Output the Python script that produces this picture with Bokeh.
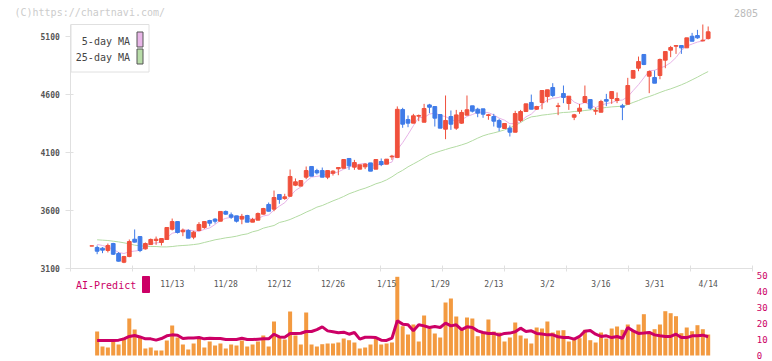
import numpy as np
from bokeh.plotting import figure
from bokeh.models import (ColumnDataSource, Range1d, LinearAxis, FixedTicker,
                          Label, BoxAnnotation)
from bokeh.embed import file_html
from bokeh.resources import INLINE

nan = np.nan

# ---------------- data ----------------
opens = [3293, 3281, 3275, 3255, 3315, 3229, 3154, 3203, 3352, 3375,
         3269, 3306, 3341, 3324, 3350, 3438, 3504, 3416, 3427, 3370,
         3427, 3453, 3513, 3525, 3507, 3591, 3562, 3553, 3525, 3556,
         3499, 3516, 3568, 3651, 3611, 3737, 3702, 3722, 3817, 3809,
         3886, 3978, 3943, 3943, 3886, 3920, 3958, 3963, 4047, 3972,
         3955, 3975, 4009, 3955, 4021, 3998, 4061, 4055, 4468, 4382,
         4351, 4411, 4359, 4508, 4494, 4425, 4299, 4408, 4308, 4351,
         4420, 4500, 4471, 4474, 4417, 4408, 4374, 4305, 4308, 4273,
         4374, 4451, 4529, 4471, 4529, 4580, 4658, 4494, 4606, 4520,
         4402, 4454, 4529, 4554, 4454, 4445, 4554, 4563, 4546, 4500,
         4514, 4738, 4824, 4942, 4755, 4744, 4761, 4893, 4979, 5013,
         5019, 4999, 5099, 5105, 5059, 5079]
highs = [3296, 3298, 3284, 3315, 3321, 3241, 3209, 3350, 3436, 3375,
         3324, 3358, 3375, 3358, 3453, 3530, 3504, 3444, 3438, 3424,
         3499, 3504, 3519, 3533, 3591, 3599, 3582, 3553, 3570, 3562,
         3536, 3582, 3622, 3668, 3771, 3737, 3743, 3952, 3875, 3857,
         3978, 3978, 3958, 3969, 3943, 3946, 3969, 4038, 4047, 4035,
         3992, 4006, 4009, 4038, 4047, 4041, 4078, 4495, 4483, 4417,
         4431, 4425, 4517, 4517, 4494, 4425, 4589, 4460, 4465, 4465,
         4589, 4500, 4483, 4474, 4431, 4431, 4388, 4348, 4331, 4457,
         4465, 4517, 4597, 4500, 4632, 4638, 4695, 4526, 4675, 4583,
         4431, 4517, 4675, 4554, 4486, 4552, 4603, 4623, 4615, 4517,
         4741, 4804, 4924, 4942, 4804, 4804, 4907, 4967, 5016, 5019,
         5019, 5085, 5128, 5154, 5200, 5183]
lows = [3292, 3223, 3232, 3238, 3217, 3160, 3146, 3197, 3324, 3241,
        3263, 3304, 3304, 3298, 3350, 3427, 3401, 3378, 3361, 3352,
        3421, 3441, 3464, 3487, 3507, 3562, 3527, 3496, 3481, 3499,
        3499, 3516, 3565, 3591, 3593, 3657, 3691, 3717, 3809, 3809,
        3869, 3895, 3909, 3886, 3869, 3900, 3903, 3963, 3949, 3949,
        3955, 3955, 3938, 3955, 3981, 3998, 4035, 4050, 4311, 4316,
        4351, 4368, 4359, 4437, 4322, 4308, 4213, 4293, 4293, 4345,
        4420, 4443, 4402, 4397, 4380, 4322, 4282, 4305, 4236, 4273,
        4359, 4451, 4471, 4465, 4471, 4529, 4574, 4420, 4523, 4465,
        4377, 4431, 4529, 4465, 4423, 4445, 4497, 4517, 4523, 4377,
        4514, 4738, 4798, 4850, 4609, 4695, 4729, 4824, 4919, 4947,
        4947, 4999, 5056, 5077, 5056, 5071]
closes = [3295, 3249, 3258, 3298, 3223, 3163, 3203, 3332, 3327, 3255,
          3315, 3350, 3352, 3358, 3453, 3504, 3410, 3430, 3361, 3413,
          3479, 3504, 3490, 3507, 3591, 3568, 3542, 3507, 3548, 3499,
          3522, 3573, 3616, 3593, 3711, 3694, 3717, 3892, 3846, 3857,
          3943, 3895, 3923, 3886, 3943, 3938, 3969, 4038, 3984, 4012,
          3992, 3998, 3938, 4038, 3995, 4041, 4067, 4470, 4342, 4351,
          4414, 4417, 4477, 4488, 4394, 4308, 4374, 4342, 4422, 4443,
          4466, 4454, 4437, 4428, 4423, 4368, 4316, 4348, 4273, 4434,
          4451, 4517, 4471, 4494, 4632, 4638, 4589, 4500, 4572, 4583,
          4423, 4480, 4580, 4480, 4460, 4537, 4540, 4623, 4563, 4488,
          4675, 4804, 4881, 4856, 4795, 4695, 4899, 4967, 5002, 5019,
          4999, 5085, 5056, 5085, 5065, 5137]
ma5 = [nan, 3307, 3298, 3285, 3265, 3238, 3229, 3244, 3250, 3256,
       3286, 3316, 3320, 3326, 3366, 3403, 3415, 3431, 3432, 3424,
       3419, 3437, 3449, 3479, 3514, 3532, 3540, 3543, 3551, 3533,
       3524, 3530, 3552, 3561, 3603, 3637, 3666, 3721, 3772, 3801,
       3851, 3887, 3893, 3901, 3918, 3917, 3932, 3955, 3974, 3988,
       3999, 4005, 3985, 3996, 3992, 4002, 4016, 4122, 4183, 4254,
       4329, 4399, 4400, 4429, 4438, 4417, 4408, 4381, 4368, 4378,
       4409, 4425, 4444, 4446, 4442, 4422, 4394, 4377, 4346, 4348,
       4364, 4405, 4429, 4473, 4513, 4550, 4565, 4571, 4586, 4576,
       4533, 4512, 4528, 4509, 4485, 4507, 4519, 4528, 4545, 4550,
       4578, 4631, 4682, 4741, 4802, 4806, 4825, 4842, 4872, 4916,
       4977, 5014, 5032, 5049, 5058, 5086]
ma25 = [nan, 3347, 3344, 3341, 3335, 3329, 3321, 3312, 3301, 3295,
        3292, 3289, 3289, 3286, 3286, 3289, 3295, 3298, 3301, 3306,
        3312, 3324, 3335, 3347, 3355, 3364, 3370, 3378, 3390, 3398,
        3416, 3427, 3447, 3459, 3470, 3496, 3507, 3522, 3542, 3562,
        3585, 3605, 3628, 3642, 3662, 3682, 3700, 3720, 3743, 3760,
        3777, 3791, 3809, 3829, 3843, 3863, 3889, 3920, 3945, 3975,
        4000, 4025, 4052, 4078, 4095, 4110, 4124, 4138, 4150, 4164,
        4179, 4200, 4222, 4242, 4256, 4267, 4279, 4293, 4311, 4331,
        4356, 4385, 4405, 4411, 4420, 4425, 4431, 4437, 4443, 4445,
        4451, 4454, 4460, 4465, 4471, 4480, 4486, 4491, 4494, 4497,
        4511, 4529, 4546, 4566, 4580, 4597, 4615, 4632, 4646, 4663,
        4681, 4701, 4724, 4747, 4772, 4795]
volume = [0, 24, 9, 8, 14, 11, 17.7, 37, 26, 17.7,
          7, 8, 5, 5, 15, 30, 18, 11, 6, 12,
          17.7, 8, 14, 10, 12, 7, 11, 10, 15, 9,
          11, 14, 20, 9, 34, 19, 16, 44, 20, 11,
          43, 11, 9, 11.3, 12, 12, 13, 17, 15.3, 13,
          7, 8, 11, 17, 11, 12, 13, 78.7, 29.3, 21,
          31, 14, 40, 27, 22, 18, 53, 57, 39, 27,
          38, 37, 19.3, 23, 36, 24, 23, 14, 18, 33,
          20, 17, 12, 28, 27, 34, 23, 25, 25.3, 14,
          16.3, 17.3, 25.7, 15.3, 13, 23, 17, 27, 29, 25.7,
          31, 24.7, 31, 41.3, 24, 26.3, 31, 44.3, 42.3, 39.3,
          22.3, 28, 24.3, 30.3, 26.3, 21]
ai_predict = [nan, 9.4, 9.4, 9.4, 9.4, 9.6, 10.4, 11.9, 12.5, 11.6,
              10.4, 10.4, 9.6, 10.6, 12.3, 12.9, 12.7, 10.6, 11.0, 11.0,
              11.2, 10.4, 10.8, 10.6, 10.6, 10.0, 10.0, 10.0, 10.8, 10.0,
              10.0, 10.2, 10.4, 10.4, 13.3, 11.6, 11.4, 13.7, 13.7, 13.9,
              15.0, 15.0, 16.2, 17.9, 15.4, 14.8, 14.2, 14.6, 13.3, 14.4,
              10.2, 11.4, 11.4, 11.2, 9.6, 9.4, 10.8, 21.7, 19.6, 19.2,
              15.4, 19.2, 18.5, 17.5, 18.1, 17.5, 20.2, 18.5, 19.2, 16.2,
              17.9, 17.5, 15.4, 14.4, 13.8, 13.8, 12.7, 13.8, 14.0, 14.8,
              17.1, 15.0, 15.4, 13.8, 13.5, 12.9, 12.9, 11.7, 11.2, 11.2,
              10.2, 11.9, 15.2, 15.6, 13.3, 11.9, 12.3, 11.2, 11.9, 10.8,
              17.5, 15.4, 13.8, 14.0, 14.4, 12.9, 12.3, 11.9, 11.9, 13.3,
              11.2, 11.2, 12.3, 12.3, 12.7, 11.7]
date_labels = ["11/13", "11/28", "12/12", "12/26", "1/15", "1/29",
               "2/13", "3/2", "3/16", "3/31", "4/14"]
date_label_index = [15, 25, 35, 45, 55, 65, 75, 85, 95, 105, 115]
price_ticks = [3100, 3600, 4100, 4600, 5100]
ai_ticks = [0, 10, 20, 30, 40, 50]

# ---------------- styling / layout ----------------
FONT = "DejaVu Sans Mono"
UP, DOWN = "#f0503c", "#3f7be8"
AXIS_GRAY = "#e0e0e0"
CRIMSON = "#cc0066"
W, H = 772, 361

# the whole canvas is the plot frame; axes are pinned inside it
X_START, X_END = -17.03, 127.0          # candle index at the canvas edges
AX_L, AX_R = -3.918, 123.32             # left / right end of the price panel
P_BOTTOM, P_TOP = 3100, 5200            # price panel extent

n = len(closes)
idx = list(range(n))
src = ColumnDataSource(dict(
    x=idx, open=opens, high=highs, low=lows, close=closes,
    body_top=[max(o, c) for o, c in zip(opens, closes)],
    body_bottom=[min(o, c) for o, c in zip(opens, closes)],
    candle_color=[UP if c >= o else DOWN for o, c in zip(opens, closes)],
    ma5=ma5, ma25=ma25, vol=volume, ai=ai_predict))

p = figure(width=W, height=H, output_backend="svg", toolbar_location=None,
           x_range=Range1d(X_START, X_END), y_range=Range1d(2299.6, 5406.6),
           x_axis_location=None, y_axis_location=None, min_border=0)
p.outline_line_color = None
p.grid.visible = False
p.background_fill_color = "white"
p.border_fill_color = "white"
p.extra_y_ranges = {"vol": Range1d(-6, 355), "ai": Range1d(-3.75, 221.875)}

# left price axis
ya = LinearAxis(fixed_location=AX_L, ticker=FixedTicker(ticks=price_ticks),
                bounds=(P_BOTTOM, P_TOP))
ya.axis_line_color = AXIS_GRAY
ya.major_tick_line_color = AXIS_GRAY
ya.minor_tick_line_color = None
ya.major_tick_in = 3
ya.major_tick_out = 5
ya.major_label_standoff = 6
ya.major_label_text_font = FONT
ya.major_label_text_font_size = "8px"
ya.major_label_text_font_style = "bold"
ya.major_label_text_color = "#555555"
p.add_layout(ya, "left")

# bottom axis of the price panel: evenly spaced tick marks + date labels
grid_ticks = list(np.linspace(AX_L, AX_R, 12))
da = LinearAxis(fixed_location=P_BOTTOM, bounds=(AX_L, AX_R),
                ticker=FixedTicker(ticks=date_label_index, minor_ticks=grid_ticks),
                major_label_overrides={i: s for i, s in zip(date_label_index, date_labels)})
da.axis_line_color = AXIS_GRAY
da.major_tick_line_color = None
da.major_tick_in = 0
da.major_tick_out = 0
da.minor_tick_line_color = AXIS_GRAY
da.minor_tick_in = 3
da.minor_tick_out = 3
da.major_label_standoff = 8
da.major_label_text_font = FONT
da.major_label_text_font_size = "8px"
da.major_label_text_color = "#555555"
p.add_layout(da, "below")

# right axis for AI-Predict
ra = LinearAxis(y_range_name="ai", fixed_location=AX_R,
                ticker=FixedTicker(ticks=ai_ticks), bounds=(0, 50))
ra.axis_line_color = None
ra.major_tick_line_color = None
ra.minor_tick_line_color = None
ra.major_tick_in = 0
ra.major_tick_out = 0
ra.major_label_standoff = 4
ra.major_label_text_font = FONT
ra.major_label_text_font_size = "9px"
ra.major_label_text_color = CRIMSON
p.add_layout(ra, "right")

# moving averages
p.line("x", "ma25", source=src, line_color="#b3dba3", line_width=1)
p.line("x", "ma5", source=src, line_color="#e7b2e7", line_width=1)

# candles
p.segment(x0="x", y0="low", x1="x", y1="high", source=src,
          line_color="candle_color", line_width=1)
p.vbar(x="x", width=0.7, top="body_top", bottom="body_bottom", source=src,
       fill_color="candle_color", line_color="candle_color", line_width=1)

# volume + AI predict
p.vbar(x="x", width=0.75, top="vol", bottom=0, source=src, y_range_name="vol",
       fill_color="#f39a40", line_color=None)
p.line("x", "ai", source=src, y_range_name="ai", line_color=CRIMSON, line_width=3)

# texts and legend (screen units: from canvas left, from canvas bottom)
def lab(text, x, y, align="left", size="10px", color="#444444"):
    p.add_layout(Label(x=x, y=y, x_units="screen", y_units="screen", text=text,
                       text_align=align, text_baseline="middle",
                       text_font=FONT, text_font_size=size, text_color=color))

def box(l, r, t, b, fill, line):
    p.add_layout(BoxAnnotation(left=l, right=r, top=t, bottom=b,
                               left_units="screen", right_units="screen",
                               top_units="screen", bottom_units="screen",
                               fill_color=fill, fill_alpha=1.0,
                               line_color=line, line_alpha=1.0, line_width=1))

lab("(C)https://chartnavi.com/", 14, 349, color="#cccccc")
lab("2805", 757.5, 349, align="right", color="#bbbbbb")

box(70.5, 148.5, 337, 289.5, "white", AXIS_GRAY)
lab("5-day MA", 129.5, 320, align="right")
lab("25-day MA", 129.5, 304.3, align="right")
box(136.5, 142.5, 329.5, 314.5, "#e8b6e8", "#555555")
box(136.5, 142.5, 312.5, 297.5, "#b8dca8", "#555555")

lab("AI-Predict", 75.5, 76, color=CRIMSON)
box(142, 149, 85, 69, CRIMSON, CRIMSON)

open("out.html", "w").write(file_html(p, INLINE))
